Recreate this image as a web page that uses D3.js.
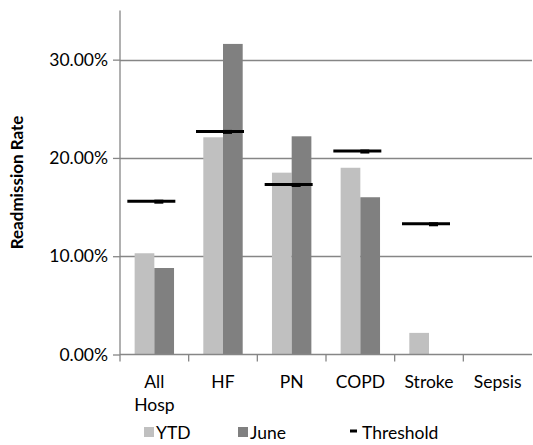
<!DOCTYPE html>
<html>
<head>
<meta charset="utf-8">
<script src="https://cdn.jsdelivr.net/npm/d3@7"></script>
<style>
  body { margin: 0; background: #fff; }
  svg { display: block; }
  text { font-family: Lato, "Open Sans", sans-serif; fill: #000; }
</style>
</head>
<body>
<svg id="chart" width="533" height="445"></svg>
<script>
// Readmission rates by condition
const categories = ["All Hosp", "HF", "PN", "COPD", "Stroke", "Sepsis"];
const ytd       = [0.103, 0.221, 0.185, 0.190, 0.022, 0];
const june      = [0.088, 0.316, 0.222, 0.160, 0, 0];
const threshold = [0.156, 0.227, 0.173, 0.207, 0.133, null];
const yTicks    = [0, 0.10, 0.20, 0.30];
const seriesNames = ["YTD", "June"];
const seriesColors = ["#c0c0c0", "#808080"];

const svg = d3.select("#chart");
const axisColor = "#868686";

const plot = { left: 120, right: 532, top: 10.5, bottom: 354.5 };

const x = d3.scaleBand().domain(categories).range([plot.left, plot.right]).padding(0);
const y = d3.scaleLinear().domain([0, 0.35]).range([plot.bottom, plot.top]);

const groupWidth = 39.4;
const x1 = d3.scaleBand().domain(seriesNames).range([0, groupWidth]).padding(0);
const groupOffset = (x.bandwidth() - groupWidth) / 2;

// horizontal gridlines
svg.append("g").selectAll("line")
  .data(yTicks.filter(d => d > 0))
  .join("line")
  .attr("x1", plot.left).attr("x2", plot.right)
  .attr("y1", d => Math.round(y(d)) + 0.5).attr("y2", d => Math.round(y(d)) + 0.5)
  .attr("stroke", axisColor).attr("stroke-width", 1.3);

// bars
const rows = categories.map((c, i) => ({ cat: c, vals: [ytd[i], june[i]] }));
const groups = svg.append("g").selectAll("g")
  .data(rows).join("g")
  .attr("transform", d => `translate(${x(d.cat) + groupOffset},0)`);
groups.selectAll("rect")
  .data(d => d.vals.map((v, j) => ({ name: seriesNames[j], v, color: seriesColors[j] })))
  .join("rect")
  .attr("x", d => x1(d.name))
  .attr("width", x1.bandwidth())
  .attr("y", d => y(d.v))
  .attr("height", d => y(0) - y(d.v))
  .attr("fill", d => d.color);

// y axis
const yAxis = d3.axisLeft(y).tickValues(yTicks).tickSize(7).tickPadding(5)
  .tickFormat(d3.format(".2%"));
const gy = svg.append("g").attr("transform", `translate(${plot.left},0)`).call(yAxis);
gy.select(".domain").attr("stroke", axisColor).attr("stroke-width", 1.3)
  .attr("d", `M0,${plot.top}V${plot.bottom + 7}`);
gy.selectAll(".tick line").attr("stroke", axisColor).attr("stroke-width", 1.3);
gy.selectAll(".tick text").attr("font-size", 17.5).attr("fill", "#000")
  .attr("font-family", "Lato, sans-serif");

// x axis: baseline and category separators
svg.append("line")
  .attr("x1", plot.left).attr("x2", plot.right)
  .attr("y1", plot.bottom).attr("y2", plot.bottom)
  .attr("stroke", axisColor).attr("stroke-width", 1.3);
svg.append("g").selectAll("line")
  .data(categories.slice(1))
  .join("line")
  .attr("x1", d => x(d)).attr("x2", d => x(d))
  .attr("y1", plot.bottom).attr("y2", plot.bottom + 7)
  .attr("stroke", axisColor).attr("stroke-width", 1.3);

// category labels, wrapped on spaces
const labels = svg.append("g").selectAll("text")
  .data(categories).join("text")
  .attr("x", d => x(d) + x.bandwidth() / 2)
  .attr("y", 388)
  .attr("text-anchor", "middle")
  .attr("font-size", 17.5);
labels.each(function(d) {
  const words = d.split(" ");
  d3.select(this).selectAll("tspan").data(words).join("tspan")
    .attr("x", x(d) + x.bandwidth() / 2)
    .attr("dy", (w, i) => i === 0 ? 0 : 23)
    .text(w => w);
});

// threshold markers
const thr = categories.map((c, i) => ({ cat: c, v: threshold[i] })).filter(d => d.v != null);
const tg = svg.append("g");
tg.selectAll("line").data(thr).join("line")
  .attr("x1", d => x(d.cat) + x.bandwidth() / 2 - 27)
  .attr("x2", d => x(d.cat) + x.bandwidth() / 2 + 21)
  .attr("y1", d => y(d.v)).attr("y2", d => y(d.v))
  .attr("stroke", "#000").attr("stroke-width", 3);
tg.selectAll("rect").data(thr).join("rect")
  .attr("x", d => x(d.cat) + x.bandwidth() / 2)
  .attr("y", d => y(d.v) - 1.5)
  .attr("width", 9).attr("height", 4)
  .attr("fill", "#000");

// y axis title
svg.append("text")
  .attr("transform", `translate(23,${(plot.top + plot.bottom) / 2}) rotate(-90)`)
  .attr("text-anchor", "middle")
  .attr("font-size", 17).attr("font-weight", "bold")
  .text("Readmission Rate");

// legend
const legend = svg.append("g");
const legendItems = [
  { name: "YTD", color: seriesColors[0], sx: 144, tx: 156 },
  { name: "June", color: seriesColors[1], sx: 238, tx: 250 }
];
legend.selectAll("rect").data(legendItems).join("rect")
  .attr("x", d => d.sx).attr("y", 427).attr("width", 10).attr("height", 10)
  .attr("fill", d => d.color);
legend.selectAll("text.s").data(legendItems).join("text").attr("class", "s")
  .attr("x", d => d.tx).attr("y", 439).attr("font-size", 17.5).text(d => d.name);
legend.append("rect").attr("x", 350).attr("y", 429.5).attr("width", 7).attr("height", 3).attr("fill", "#000");
legend.append("text").attr("x", 362).attr("y", 439).attr("font-size", 17.5).text("Threshold");
</script>
</body>
</html>
